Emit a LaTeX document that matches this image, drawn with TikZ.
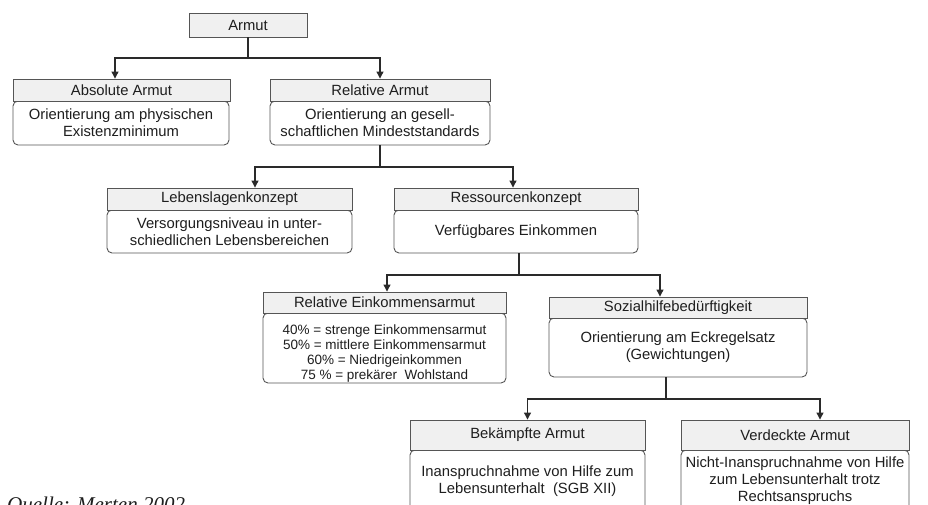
\documentclass[tikz,border=0pt]{standalone}
\usepackage{fontspec}
\setmainfont{Liberation Sans}
\newfontfamily\qfont{Liberation Serif}
\usetikzlibrary{arrows.meta}
\definecolor{bordc}{HTML}{555555}
\definecolor{hdrfill}{HTML}{F0F0F0}
\definecolor{linec}{HTML}{2A2A2A}
\definecolor{txtc}{HTML}{1E1E1E}
\tikzset{
  hdr/.style={draw=bordc, fill=hdrfill, line width=0.9pt, inner sep=0pt, text=txtc,
    font=\fontsize{14.8}{17}\selectfont},
  bdy/.style={draw=bordc, fill=white, rounded corners=5pt, line width=0.9pt, inner sep=0pt,
    align=center, text=txtc, font=\fontsize{14.8}{17}\selectfont},
  conn/.style={draw=linec, line width=1.1pt},
  arr/.style={conn, -{Triangle[width=7pt,length=7pt]}}
}
\begin{document}
\begin{tikzpicture}[x=1pt,y=-1pt]
\useasboundingbox (0,0) rectangle (928,504);
\clip (0,0) rectangle (928,504);
% top
\node[hdr, minimum width=118, minimum height=24] (armut) at (248,25) {Armut};
% level 1
\node[bdy, minimum width=216, minimum height=44] (absB) at (121,123) {Orientierung am physischen\\Existenzminimum};
\node[hdr, minimum width=217, minimum height=22] (absH) at (121.5,90) {Absolute Armut};
\node[bdy, minimum width=220, minimum height=44] (relB) at (380,123) {Orientierung an gesell-\\schaftlichen Mindeststandards};
\node[hdr, minimum width=220, minimum height=22] (relH) at (380,90) {Relative Armut};
% level 2
\node[bdy, minimum width=245, minimum height=43] (lebB) at (229.5,231.5) {Versorgungsniveau in unter-\\schiedlichen Lebensbereichen};
\node[hdr, minimum width=245, minimum height=22] (lebH) at (229.5,199) {Lebenslagenkonzept};
\node[bdy, minimum width=244, minimum height=43] (resB) at (516,231.5) {Verfügbares Einkommen};
\node[hdr, minimum width=244, minimum height=22] (resH) at (516,199) {Ressourcenkonzept};
% level 3
\node[bdy, minimum width=243, minimum height=70] (reiB) at (384.5,348) {};
\node[inner sep=0pt, align=center, text=txtc, font=\fontsize{13.5}{15}\selectfont] (reiT) at (384.5,354) {40\% = strenge Einkommensarmut\\50\% = mittlere Einkommensarmut\\60\% = Niedrigeinkommen\\75 \% = prekärer\ \ Wohlstand};
\node[hdr, minimum width=243, minimum height=21] (reiH) at (384.5,302.5) {Relative Einkommensarmut};
\node[bdy, minimum width=258, minimum height=59] (sozB) at (678,347.5) {Orientierung am Eckregelsatz\\(Gewichtungen)};
\node[hdr, minimum width=258, minimum height=21] (sozH) at (678,307.5) {Sozialhilfebedürftigkeit};
% level 4
\node[bdy, minimum width=235, minimum height=62] (bekB) at (527.5,481) {Inanspruchnahme von Hilfe zum\\Lebensunterhalt\ \ (SGB XII)};
\node[hdr, minimum width=235, minimum height=30] (bekH) at (527.5,435) {Bekämpfte Armut};
\node[bdy, minimum width=228, minimum height=62] (verB) at (795,481) {Nicht-Inanspruchnahme von Hilfe\\zum Lebensunterhalt trotz\\Rechtsanspruchs};
\node[hdr, minimum width=228, minimum height=30] (verH) at (795,435) {Verdeckte Armut};
% connectors
\coordinate (j1) at (248,58);
\draw[conn] (armut.south) -- (j1);
\draw[arr] (j1) -| ([xshift=-6.5pt]absH.north);
\draw[arr] (j1) -| (relH.north);
\coordinate (j2) at (380,167);
\draw[conn] (relB.south) -- (j2);
\draw[arr] (j2) -| ([xshift=25.5pt]lebH.north);
\draw[arr] (j2) -| ([xshift=-3pt]resH.north);
\coordinate (j3) at (519,275);
\draw[conn] ([xshift=3pt]resB.south) -- (j3);
\draw[arr] (j3) -| ([xshift=2.5pt]reiH.north);
\draw[arr] (j3) -| ([xshift=-18pt]sozH.north);
\coordinate (j4) at (666,399);
\draw[conn] ([xshift=-12pt]sozB.south) -- (j4);
\draw[arr] (j4) -| (bekH.north);
\draw[arr] (j4) -| ([xshift=25pt]verH.north);
% source
\node[anchor=base west, inner sep=0pt, font=\qfont\itshape\fontsize{21}{24}\selectfont, text=txtc] (src) at (7,511) {Quelle: Merten 2002};
\end{tikzpicture}
\end{document}
